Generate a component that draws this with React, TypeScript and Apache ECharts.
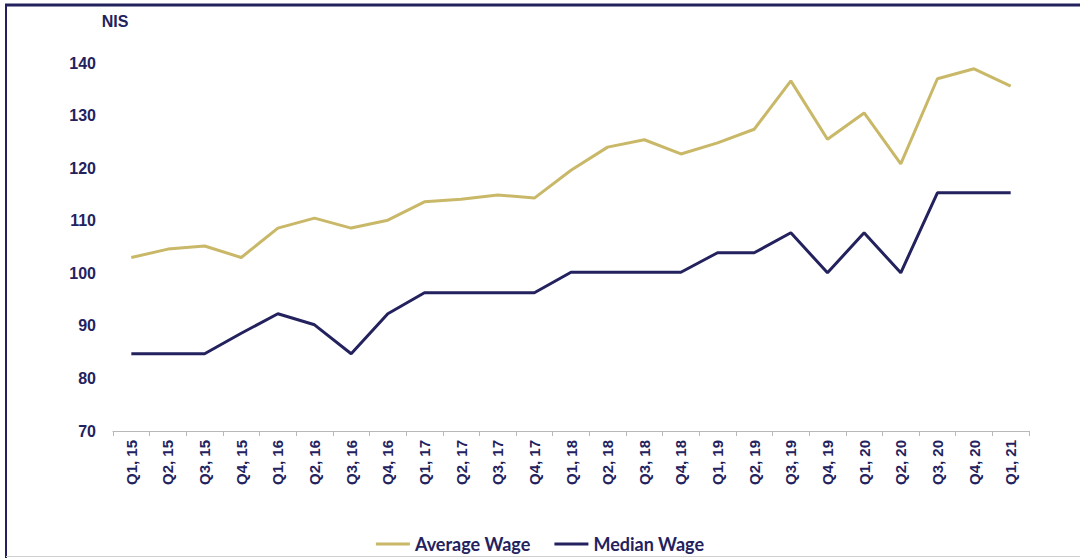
import React, { useEffect, useRef } from "react";
import * as echarts from "echarts";

const categories = [
  "Q1, 15", "Q2, 15", "Q3, 15", "Q4, 15",
  "Q1, 16", "Q2, 16", "Q3, 16", "Q4, 16",
  "Q1, 17", "Q2, 17", "Q3, 17", "Q4, 17",
  "Q1, 18", "Q2, 18", "Q3, 18", "Q4, 18",
  "Q1, 19", "Q2, 19", "Q3, 19", "Q4, 19",
  "Q1, 20", "Q2, 20", "Q3, 20", "Q4, 20",
  "Q1, 21",
];

const averageWage = [
  103, 104.6, 105.2, 103,
  108.6, 110.5, 108.6, 110.1,
  113.6, 114.1, 114.9, 114.3,
  119.6, 124, 125.4, 122.7,
  124.8, 127.4, 136.6, 125.5,
  130.5, 120.8, 137, 138.9,
  135.6,
];

const medianWage = [
  84.7, 84.7, 84.7, 88.6,
  92.3, 90.2, 84.7, 92.3,
  96.3, 96.3, 96.3, 96.3,
  100.2, 100.2, 100.2, 100.2,
  103.9, 103.9, 107.7, 100.1,
  107.7, 100.1, 115.3, 115.3,
  115.3,
];

const NAVY = "#23225e";
const GOLD = "#c9b868";

export default function App() {
  const ref = useRef<HTMLDivElement>(null);
  useEffect(() => {
    if (!ref.current) return;
    const chart = echarts.init(ref.current, undefined, { renderer: "svg" });
    chart.setOption({
      animation: false,
      backgroundColor: "#ffffff",
      textStyle: { fontFamily: "Liberation Sans, Arial, sans-serif" },
      grid: { left: 113, right: 51, top: 63, bottom: 127, containLabel: false },
      legend: {
        bottom: 0,
        left: "center",
        itemWidth: 34,
        itemHeight: 3,
        itemGap: 24,
        icon: "rect",
        textStyle: { color: NAVY, fontSize: 18, fontWeight: "bold", fontFamily: "Lato, sans-serif" },
        data: ["Average Wage", "Median Wage"],
      },
      xAxis: {
        type: "category",
        data: categories,
        boundaryGap: true,
        axisLine: { show: true, lineStyle: { color: "#b8b8b8", width: 1 } },
        axisTick: { show: true, length: 5, lineStyle: { color: "#b8b8b8" } },
        axisLabel: {
          rotate: 90,
          interval: 0,
          color: NAVY,
          fontSize: 15,
          fontWeight: "bold",
          margin: 9,
        },
      },
      yAxis: {
        type: "value",
        min: 70,
        max: 140,
        interval: 10,
        name: "NIS",
        nameLocation: "end",
        nameGap: 34,
        nameTextStyle: { color: NAVY, fontSize: 16, fontWeight: "bold", align: "center", padding: [0, 0, 0, 4] },
        axisLine: { show: false },
        axisTick: { show: false },
        splitLine: { show: false },
        axisLabel: { color: NAVY, fontSize: 16, fontWeight: "bold", margin: 17 },
      },
      graphic: [
        { type: "line", shape: { x1: 5, y1: 5, x2: 1080, y2: 5 }, style: { stroke: NAVY, lineWidth: 3 } },
        { type: "line", shape: { x1: 6, y1: 4, x2: 6, y2: 558 }, style: { stroke: NAVY, lineWidth: 2 } },
        { type: "line", shape: { x1: 6, y1: 556.5, x2: 1080, y2: 556.5 }, style: { stroke: "#d0d0d0", lineWidth: 1 } },
      ],
      series: [
        {
          name: "Average Wage",
          type: "line",
          data: averageWage,
          symbol: "none",
          lineStyle: { color: GOLD, width: 3 },
          itemStyle: { color: GOLD },
        },
        {
          name: "Median Wage",
          type: "line",
          data: medianWage,
          symbol: "none",
          lineStyle: { color: NAVY, width: 3 },
          itemStyle: { color: NAVY },
        },
      ],
    });
    return () => chart.dispose();
  }, []);
  return (
    <div
      ref={ref}
      style={{ position: "absolute", left: 0, top: 0, width: 1080, height: 558 }}
    />
  );
}
